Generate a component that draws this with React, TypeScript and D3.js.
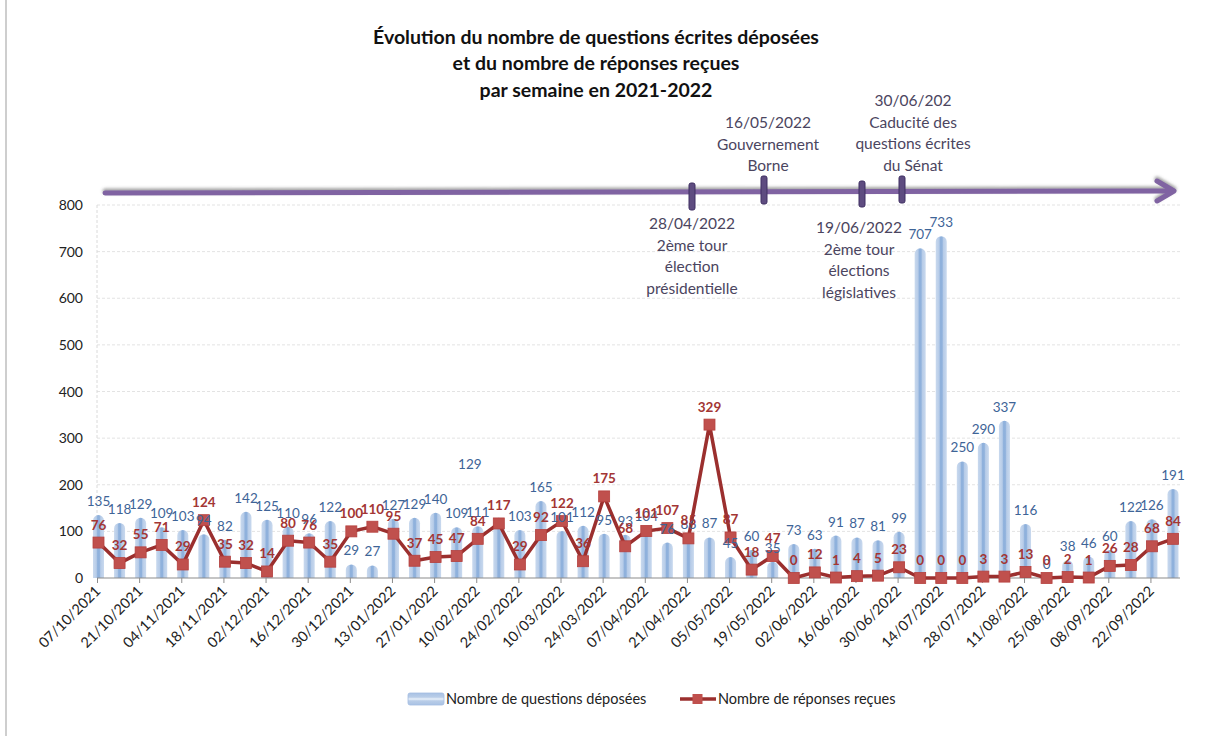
import React from "react";
import * as d3 from "d3";

const dates = [
  "07/10/2021","14/10/2021","21/10/2021","28/10/2021","04/11/2021","11/11/2021","18/11/2021","25/11/2021",
  "02/12/2021","09/12/2021","16/12/2021","23/12/2021","30/12/2021","06/01/2022","13/01/2022","20/01/2022",
  "27/01/2022","03/02/2022","10/02/2022","17/02/2022","24/02/2022","03/03/2022","10/03/2022","17/03/2022",
  "24/03/2022","31/03/2022","07/04/2022","14/04/2022","21/04/2022","28/04/2022","05/05/2022","12/05/2022",
  "19/05/2022","26/05/2022","02/06/2022","09/06/2022","16/06/2022","23/06/2022","30/06/2022","07/07/2022",
  "14/07/2022","21/07/2022","28/07/2022","04/08/2022","11/08/2022","18/08/2022","25/08/2022","01/09/2022",
  "08/09/2022","15/09/2022","22/09/2022","29/09/2022"
];

const questions = [
  135,118,129,109,103,94,82,142,125,110,96,122,29,27,127,129,140,109,111,129,103,165,101,112,95,93,104,76,86,87,
  45,60,35,73,63,91,87,81,99,707,733,250,290,337,116,0,38,46,60,122,126,191
];

const reponses = [
  76,32,55,71,29,124,35,32,14,80,76,35,100,110,95,37,45,47,84,117,29,92,122,36,175,68,101,107,85,329,
  87,18,47,0,12,1,4,5,23,0,0,0,3,3,13,0,2,1,26,28,68,84
];

const yTicks = [0,100,200,300,400,500,600,700,800];

const titleLines = [
  "Évolution du nombre de questions écrites déposées",
  "et du nombre de réponses reçues",
  "par semaine en 2021-2022"
];

const events = [
  { lines: ["28/04/2022","2ème tour","élection","présidentielle"], above: false },
  { lines: ["16/05/2022","Gouvernement","Borne"], above: true },
  { lines: ["19/06/2022","2ème tour","élections","législatives"], above: false },
  { lines: ["30/06/202","Caducité des","questions écrites","du Sénat"], above: true },
];

const legendLabels = ["Nombre de questions déposées", "Nombre de réponses reçues"];

const FONT = "Lato, 'Open Sans', sans-serif";

export default function App() {
  const W = 1226, H = 736;
  const x = d3.scaleLinear().domain([0, dates.length - 1]).range([98.5, 1173]);
  const y = d3.scaleLinear().domain([0, 800]).range([578, 205]);
  const axisLeft = 97, axisRight = 1180;
  const barW = 11;

  const barPath = (i: number, v: number) => {
    const cx = x(i);
    const y0 = y(0);
    const yt = y(v);
    const h = y0 - yt;
    if (h <= 0) return "";
    const r = Math.min(barW / 2, h);
    return `M${cx - barW / 2},${y0} L${cx - barW / 2},${yt + r} A${barW / 2},${r} 0 0 1 ${cx + barW / 2},${yt + r} L${cx + barW / 2},${y0} Z`;
  };

  const line = d3.line<number>().x((_, i) => x(i)).y((d) => y(d));

  // timeline annotation placement (hand-placed in the original)
  const evX = [692, 764, 862, 902];
  const evMarkY = [[183, 210], [176, 204], [181, 207], [176, 203]];
  const evTextX = [692, 768, 859, 913];
  const evTextY0 = [229, 128, 233, 106];

  return (
    <svg width={W} height={H} style={{ position: "absolute", left: 0, top: 0, background: "#fff" }} fontFamily={FONT}>
      <defs>
        <linearGradient id="barGrad" x1="0" x2="1" y1="0" y2="0">
          <stop offset="0" stopColor="#C9D9EE" />
          <stop offset="0.3" stopColor="#B7CCE8" />
          <stop offset="0.42" stopColor="#8FB1DC" />
          <stop offset="0.58" stopColor="#8FB1DC" />
          <stop offset="0.7" stopColor="#B7CCE8" />
          <stop offset="1" stopColor="#C9D9EE" />
        </linearGradient>
        <linearGradient id="legGrad" x1="0" x2="0" y1="0" y2="1">
          <stop offset="0" stopColor="#A9C2E4" />
          <stop offset="0.35" stopColor="#B9CDE8" />
          <stop offset="0.45" stopColor="#DCE7F5" />
          <stop offset="0.55" stopColor="#DCE7F5" />
          <stop offset="0.65" stopColor="#B9CDE8" />
          <stop offset="1" stopColor="#A9C2E4" />
        </linearGradient>
        <filter id="shadow" x="-5%" y="-200%" width="110%" height="500%">
          <feDropShadow dx="0" dy="-2" stdDeviation="1.6" floodColor="#555" floodOpacity="0.55" />
        </filter>
      </defs>

      {/* frame */}
      <rect x={6} y={-5} width={1240} height={760} fill="none" stroke="#BFBFBF" strokeWidth={1.5} />

      {/* title */}
      {titleLines.map((t, i) => (
        <text key={i} x={596} y={43.5 + i * 26.5} textAnchor="middle" fontWeight="bold" fontSize={19.5} fill="#111">{t}</text>
      ))}

      {/* gridlines */}
      {yTicks.filter((t) => t > 0).map((t) => (
        <line key={t} x1={axisLeft} x2={axisRight} y1={y(t)} y2={y(t)} stroke="#E3E3E3" strokeDasharray="3,2" strokeWidth={1} />
      ))}
      <line x1={axisLeft} x2={axisLeft} y1={y(800)} y2={y(0)} stroke="#DADADA" strokeDasharray="3,2" />
      {yTicks.map((t) => (
        <text key={t} x={83} y={y(t) + 5} textAnchor="end" fontSize={14} fill="#222">{t}</text>
      ))}

      {/* bars */}
      {questions.map((v, i) => (
        <path key={i} d={barPath(i, v)} fill="url(#barGrad)" />
      ))}

      {/* x axis */}
      <line x1={axisLeft} x2={axisRight} y1={y(0)} y2={y(0)} stroke="#8C8C8C" strokeWidth={1.2} />
      {dates.map((d, i) => i % 2 === 0 ? (
        <g key={d}>
          <line x1={x(i) - 1} x2={x(i) - 1} y1={y(0)} y2={y(0) + 5} stroke="#8C8C8C" />
          <text transform={`translate(${x(i) + 3},${y(0) + 14}) rotate(-45)`} textAnchor="end" fontSize={14.5} fill="#222">{d}</text>
        </g>
      ) : null)}

      {/* line series */}
      <path d={line(reponses) || ""} fill="none" stroke="#9B2F2E" strokeWidth={3.5} strokeLinejoin="round" />
      {reponses.map((v, i) => (
        <rect key={i} x={x(i) - 5.5} y={y(v) - 5.5} width={11} height={11} fill="#C0504D" stroke="#B5403E" strokeWidth={0.8} />
      ))}

      {/* bar labels */}
      {questions.map((v, i) => {
        const special = i === 19; // label moved manually in the original
        return (
          <text key={i} x={x(i) + (special ? -29 : 0)} y={y(v) - 9 + (special ? -40 : 0)} textAnchor="middle" fontSize={13.5} fill="#3E6497">{v}</text>
        );
      })}
      {/* line labels */}
      {reponses.map((v, i) => (
        <text key={i} x={x(i)} y={y(v) - 13} textAnchor="middle" fontSize={13.5} fontWeight="bold" fill="#A33634">{v}</text>
      ))}

      {/* timeline */}
      <g filter="url(#shadow)">
        <line x1={105} y1={193} x2={1172} y2={191} stroke="#8064A2" strokeWidth={5} strokeLinecap="round" />
        <polyline points="1157,181 1174,191 1157,201" fill="none" stroke="#8064A2" strokeWidth={5} strokeLinecap="round" strokeLinejoin="round" />
      </g>
      {evX.map((ex, i) => (
        <rect key={i} x={ex - 3} y={evMarkY[i][0]} width={6} height={evMarkY[i][1] - evMarkY[i][0]} rx={2} fill="#5E4C80" stroke="#3F2F62" strokeWidth={1} />
      ))}
      {events.map((ev, i) => (
        <g key={i}>
          {ev.lines.map((l, j) => (
            <text key={j} x={evTextX[i]} y={evTextY0[i] + j * 21.5} textAnchor="middle" fontSize={15.5} fill="#4B4560">{l}</text>
          ))}
        </g>
      ))}

      {/* legend */}
      <g>
        <rect x={408} y={693} width={36} height={12} rx={2} fill="url(#legGrad)" stroke="#A3BDE2" strokeWidth={0.8} />
        <text x={446} y={704} fontSize={14.5} fill="#222">{legendLabels[0]}</text>
        <line x1={680} x2={716} y1={699} y2={699} stroke="#9B2F2E" strokeWidth={3.5} />
        <rect x={692.5} y={694} width={10} height={10} fill="#C0504D" />
        <text x={718} y={704} fontSize={14.5} fill="#222">{legendLabels[1]}</text>
      </g>
    </svg>
  );
}
